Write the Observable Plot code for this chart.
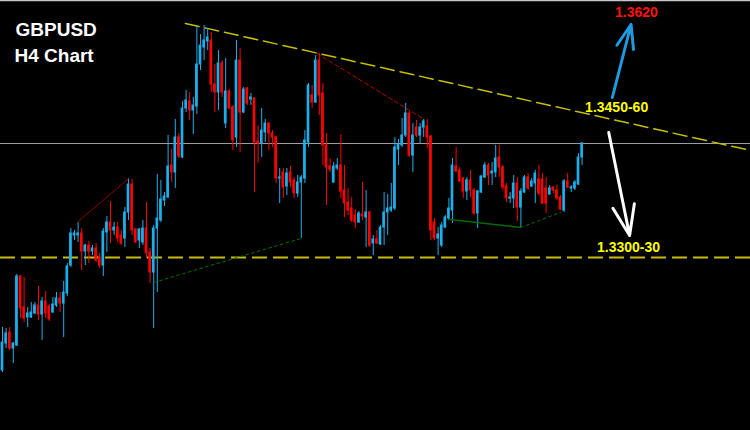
<!DOCTYPE html>
<html><head><meta charset="utf-8">
<style>html,body{margin:0;padding:0;background:#000;}#chart{width:750px;height:430px;overflow:hidden;}</style>
<script src="https://cdn.jsdelivr.net/npm/d3@7"></script>
<script src="https://cdn.jsdelivr.net/npm/@observablehq/plot@0.6"></script>
</head><body><div id="chart"></div>
<script>
// GBPUSD H4 candles (index order), prices
const openP = [
1.3202,1.3229,1.3240,1.3224,1.3227,1.3296,1.3265,1.3255,1.3255,1.3259,
1.3267,1.3258,1.3271,1.3266,1.3260,1.3267,1.3274,1.3269,1.3279,1.3307,
1.3337,1.3337,1.3339,1.3321,1.3327,1.3321,1.3324,1.3315,1.3307,1.3340,
1.3350,1.3342,1.3345,1.3337,1.3334,1.3360,1.3388,1.3343,1.3332,1.3330,
1.3344,1.3320,1.3300,1.3344,1.3352,1.3372,1.3375,1.3407,1.3400,1.3435,
1.3415,1.3464,1.3471,1.3462,1.3466,1.3508,1.3525,1.3531,1.3532,1.3488,
1.3480,1.3509,1.3449,1.3481,1.3465,1.3435,1.3512,1.3460,1.3484,1.3473,
1.3474,1.3431,1.3429,1.3440,1.3449,1.3439,1.3435,1.3394,1.3400,1.3386,
1.3400,1.3392,1.3379,1.3390,1.3394,1.3430,1.3477,1.3470,1.3512,1.3479,
1.3427,1.3406,1.3390,1.3404,1.3407,1.3382,1.3370,1.3364,1.3357,1.3350,
1.3358,1.3355,1.3360,1.3329,1.3333,1.3328,1.3345,1.3360,1.3362,1.3364,
1.3423,1.3427,1.3437,1.3459,1.3417,1.3445,1.3437,1.3445,1.3446,1.3436,
1.3350,1.3334,1.3327,1.3345,1.3354,1.3362,1.3406,1.3402,1.3394,1.3381,
1.3392,1.3382,1.3359,1.3380,1.3395,1.3407,1.3399,1.3400,1.3415,1.3405,
1.3386,1.3374,1.3374,1.3389,1.3365,1.3380,1.3395,1.3386,1.3389,1.3393,
1.3393,1.3384,1.3378,1.3385,1.3382,1.3375,1.3362,1.3391,1.3384,1.3384,
1.3388,1.3415];
const highP = [
1.3245,1.3244,1.3245,1.3230,1.3298,1.3297,1.3295,1.3265,1.3270,1.3270,
1.3286,1.3275,1.3281,1.3268,1.3275,1.3280,1.3280,1.3291,1.3309,1.3344,
1.3342,1.3350,1.3344,1.3328,1.3331,1.3327,1.3329,1.3319,1.3344,1.3356,
1.3371,1.3350,1.3350,1.3342,1.3365,1.3394,1.3393,1.3344,1.3344,1.3352,
1.3370,1.3324,1.3347,1.3398,1.3392,1.3380,1.3437,1.3423,1.3453,1.3439,
1.3471,1.3482,1.3480,1.3475,1.3546,1.3538,1.3547,1.3544,1.3540,1.3508,
1.3522,1.3512,1.3514,1.3483,1.3467,1.3532,1.3524,1.3485,1.3485,1.3479,
1.3475,1.3447,1.3464,1.3453,1.3450,1.3442,1.3436,1.3404,1.3404,1.3404,
1.3406,1.3395,1.3397,1.3397,1.3442,1.3489,1.3487,1.3517,1.3519,1.3489,
1.3439,1.3414,1.3410,1.3414,1.3438,1.3407,1.3384,1.3375,1.3363,1.3361,
1.3390,1.3382,1.3361,1.3337,1.3342,1.3347,1.3380,1.3378,1.3389,1.3435,
1.3433,1.3454,1.3469,1.3461,1.3449,1.3452,1.3449,1.3453,1.3453,1.3437,
1.3354,1.3345,1.3350,1.3357,1.3374,1.3414,1.3425,1.3405,1.3395,1.3395,
1.3402,1.3384,1.3382,1.3397,1.3410,1.3409,1.3410,1.3427,1.3427,1.3407,
1.3389,1.3380,1.3397,1.3395,1.3384,1.3397,1.3399,1.3394,1.3402,1.3407,
1.3399,1.3395,1.3387,1.3386,1.3387,1.3377,1.3393,1.3399,1.3387,1.3392,
1.3419,1.3430];
const lowP = [
1.3200,1.3224,1.3222,1.3209,1.3226,1.3254,1.3250,1.3245,1.3254,1.3258,
1.3252,1.3232,1.3254,1.3251,1.3259,1.3265,1.3260,1.3235,1.3276,1.3305,
1.3332,1.3330,1.3302,1.3307,1.3309,1.3317,1.3310,1.3304,1.3296,1.3320,
1.3329,1.3337,1.3330,1.3327,1.3325,1.3352,1.3337,1.3329,1.3324,1.3327,
1.3314,1.3289,1.3244,1.3280,1.3350,1.3366,1.3374,1.3390,1.3384,1.3414,
1.3414,1.3460,1.3452,1.3438,1.3458,1.3502,1.3512,1.3522,1.3480,1.3460,
1.3462,1.3475,1.3444,1.3463,1.3422,1.3425,1.3420,1.3459,1.3467,1.3467,
1.3380,1.3409,1.3415,1.3430,1.3422,1.3425,1.3389,1.3369,1.3374,1.3377,
1.3385,1.3374,1.3375,1.3334,1.3389,1.3425,1.3464,1.3469,1.3457,1.3407,
1.3367,1.3400,1.3389,1.3402,1.3374,1.3355,1.3357,1.3350,1.3344,1.3349,
1.3352,1.3325,1.3325,1.3317,1.3328,1.3327,1.3327,1.3337,1.3360,1.3362,
1.3407,1.3425,1.3435,1.3415,1.3400,1.3435,1.3429,1.3435,1.3424,1.3332,
1.3332,1.3317,1.3325,1.3344,1.3352,1.3349,1.3400,1.3390,1.3374,1.3372,
1.3375,1.3357,1.3344,1.3379,1.3394,1.3387,1.3387,1.3395,1.3395,1.3382,
1.3370,1.3369,1.3364,1.3351,1.3345,1.3379,1.3382,1.3385,1.3369,1.3377,
1.3368,1.3359,1.3377,1.3379,1.3372,1.3362,1.3360,1.3384,1.3380,1.3382,
1.3387,1.3407];
const closeP = [
1.3230,1.3239,1.3224,1.3229,1.3296,1.3264,1.3254,1.3259,1.3260,1.3267,
1.3258,1.3271,1.3259,1.3253,1.3268,1.3274,1.3269,1.3280,1.3306,1.3339,
1.3339,1.3339,1.3321,1.3327,1.3321,1.3324,1.3312,1.3307,1.3341,1.3350,
1.3342,1.3345,1.3334,1.3329,1.3360,1.3388,1.3342,1.3330,1.3343,1.3344,
1.3319,1.3300,1.3344,1.3354,1.3373,1.3376,1.3406,1.3400,1.3435,1.3416,
1.3464,1.3472,1.3462,1.3467,1.3508,1.3527,1.3532,1.3535,1.3488,1.3480,
1.3509,1.3480,1.3481,1.3464,1.3432,1.3512,1.3460,1.3483,1.3469,1.3475,
1.3430,1.3429,1.3442,1.3449,1.3439,1.3435,1.3394,1.3395,1.3385,1.3399,
1.3390,1.3379,1.3390,1.3395,1.3432,1.3487,1.3470,1.3512,1.3477,1.3427,
1.3405,1.3403,1.3406,1.3407,1.3381,1.3369,1.3362,1.3352,1.3350,1.3359,
1.3356,1.3360,1.3327,1.3333,1.3329,1.3345,1.3360,1.3364,1.3365,1.3425,
1.3428,1.3437,1.3459,1.3417,1.3437,1.3437,1.3445,1.3451,1.3435,1.3342,
1.3334,1.3338,1.3347,1.3355,1.3364,1.3407,1.3401,1.3391,1.3381,1.3392,
1.3382,1.3359,1.3381,1.3396,1.3407,1.3397,1.3401,1.3414,1.3405,1.3385,
1.3374,1.3375,1.3389,1.3365,1.3381,1.3395,1.3384,1.3391,1.3399,1.3379,
1.3369,1.3369,1.3384,1.3382,1.3374,1.3363,1.3391,1.3385,1.3385,1.3390,
1.3415,1.3429];

// Drawn objects (bar index, price)
const resistanceLine = [{i: 50.8, p: 1.3549}, {i: 207.8, p: 1.3422}];
const supportLevel = 1.3315;
const redLine1 = [{i: 21.0, p: 1.3351}, {i: 35.1, p: 1.3394}];
const redLine2 = [{i: 87.4, p: 1.3519}, {i: 117.2, p: 1.3453}];
const greenLine1 = [{i: 42.0, p: 1.3290}, {i: 82.9, p: 1.3334}];
const greenSolid = [{i: 124.4, p: 1.3353}, {i: 143.9, p: 1.3345}];
const greenDotted = [{i: 143.9, p: 1.3345}, {i: 155.0, p: 1.3360}];
const upArrow = [{i1: 169.4, p1: 1.3475, i2: 174.6, p2: 1.3548}];
const downArrow = [{i1: 168.4, p1: 1.3440, i2: 174.2, p2: 1.3337}];
const labels = [
  {i: 176.1, p: 1.3560, t: "1.3620", c: "#ff1010"},
  {i: 170.6, p: 1.3465, t: "1.3450-60", c: "#ffff00"},
  {i: 173.9, p: 1.3325, t: "1.3300-30", c: "#ffff00"}
];
const titles = ["GBPUSD", "H4 Chart"];

const xDomain = [-0.556, 207.78];
const yDomain = [1.3142, 1.3572];

const candles = openP.map((o, i) => ({i, open: o, high: highP[i], low: lowP[i], close: closeP[i]}));
const currentPrice = closeP[closeP.length - 1];
const UP = "#1ab0ec", DOWN = "#ff0000";
const col = d => d.close >= d.open ? UP : DOWN;
const font = "'Liberation Sans', Arial, sans-serif";

const chart = Plot.plot({
  width: 750, height: 430, margin: 0,
  x: {domain: xDomain, axis: null},
  y: {domain: yDomain, axis: null},
  color: {type: "identity"},
  style: {background: "#000", fontFamily: font},
  marks: [
    Plot.ruleY([yDomain[1]], {stroke: "#c8c8c8", strokeWidth: 1.5}),
    Plot.ruleY([currentPrice], {stroke: "#9c9ca2", strokeWidth: 1}),
    Plot.ruleY([supportLevel], {stroke: "#c8bc10", strokeWidth: 2, strokeDasharray: "15,6"}),
    Plot.line(resistanceLine, {x: "i", y: "p", stroke: "#c4c000", strokeWidth: 1.5, strokeDasharray: "14,6"}),
    Plot.ruleX(candles, {x: "i", y1: "low", y2: "high", stroke: col, strokeWidth: 1}),
    Plot.rect(candles, {
      x1: d => d.i - 0.37, x2: d => d.i + 0.37,
      y1: d => Math.min(d.open, d.close), y2: d => Math.max(d.open, d.close),
      fill: col, insetTop: -0.5, insetBottom: -0.5
    }),
    Plot.line(redLine1, {x: "i", y: "p", stroke: "#a00000", strokeWidth: 1, strokeDasharray: "2,1"}),
    Plot.line(redLine2, {x: "i", y: "p", stroke: "#c00000", strokeWidth: 1, strokeDasharray: "4,3"}),
    Plot.line(greenLine1, {x: "i", y: "p", stroke: "#007000", strokeWidth: 1, strokeDasharray: "3,3"}),
    Plot.line(greenSolid, {x: "i", y: "p", stroke: "#006a00", strokeWidth: 1.5}),
    Plot.line(greenDotted, {x: "i", y: "p", stroke: "#007000", strokeWidth: 1, strokeDasharray: "3,3"}),
    Plot.arrow(upArrow, {x1: "i1", y1: "p1", x2: "i2", y2: "p2", stroke: "#1e9be0", strokeWidth: 3, headLength: 16, headAngle: 40}),
    Plot.arrow(downArrow, {x1: "i1", y1: "p1", x2: "i2", y2: "p2", stroke: "#ffffff", strokeWidth: 3, headLength: 16, headAngle: 40}),
    Plot.text(labels, {x: "i", y: "p", text: "t", fill: "c", fontSize: 14, fontWeight: "bold", fontFamily: font}),
    Plot.text([titles[0]], {frameAnchor: "top-left", dx: 15, dy: 29, text: d => d, fill: "#ffffff", fontSize: 19, fontWeight: "bold", textAnchor: "start", lineAnchor: "middle", fontFamily: font}),
    Plot.text([titles[1]], {frameAnchor: "top-left", dx: 14, dy: 55, text: d => d, fill: "#ffffff", fontSize: 19, fontWeight: "bold", textAnchor: "start", lineAnchor: "middle", fontFamily: font})
  ]
});
document.getElementById("chart").appendChild(chart);
</script>
</body></html>
